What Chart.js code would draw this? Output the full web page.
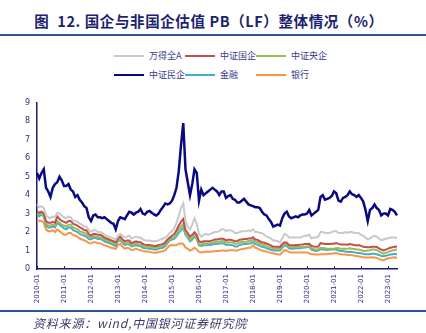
<!DOCTYPE html>
<html lang="zh-CN">
<head>
<meta charset="UTF-8">
<title>国企与非国企估值 PB（LF）整体情况</title>
<script src="https://cdn.jsdelivr.net/npm/chart.js"></script>
<style>
  body { margin: 0; width: 426px; height: 333px; background: #fff; position: relative; overflow: hidden;
         font-family: "Noto Sans CJK SC", "DejaVu Sans", sans-serif; }
  #title { position: absolute; top: 12px; left: 0; width: 418px; text-align: center; font-size: 14.5px;
           letter-spacing: 0.6px; font-weight: bold; color: #1c2270; white-space: nowrap; line-height: 18px; }
  .rule { position: absolute; left: 0; width: 426px; height: 2px; background: #2f5597; }
  .item { position: absolute; font-size: 9px; line-height: 10px; color: #3a3a8a; white-space: nowrap; }
  .item i { display: inline-block; width: 30px; height: 2px; vertical-align: middle; margin-right: 5px; margin-top: -1px; }
  #wrap { position: absolute; left: 0; top: 91px; width: 426px; height: 224px; }
  #foot { position: absolute; left: 33px; top: 315px; font-size: 12px; letter-spacing: 0.8px; line-height: 16px;
          font-style: italic; color: #3b3b66; }
</style>
</head>
<body>
<div id="title">图&nbsp; 12. 国企与非国企估值 PB（LF）整体情况（%）</div>
<div class="rule" style="top:34px"></div>
<div id="legend"></div>
<div id="wrap"><canvas id="pbChart" width="426" height="224"></canvas></div>
<div class="rule" style="top:310px;height:1.5px"></div>
<div id="foot">资料来源：wind,中国银河证券研究院</div>

<script>
// monthly, 2010-01 .. 2023-05
const seriesNames = ['万得全A', '中证国企', '中证央企', '中证民企', '金融', '银行'];

const windA = [
  3.5, 3.35, 3.4, 3.3, 2.9, 2.8, 2.75, 2.85, 2.8, 3.05, 3.0, 2.9,
  2.8, 2.75, 2.85, 2.8, 2.6, 2.6, 2.55, 2.45, 2.4, 2.3, 2.3, 2.1,
  2.0, 2.1, 2.1, 2.0, 2.0, 1.95, 1.85, 1.8, 1.75, 1.7, 1.65, 1.6,
  1.8, 1.9, 1.8, 1.7, 1.75, 1.8, 1.65, 1.7, 1.75, 1.7, 1.7, 1.6,
  1.55, 1.55, 1.55, 1.5, 1.5, 1.5, 1.55, 1.6, 1.65, 1.7, 1.8, 1.95,
  2.05, 2.2, 2.5, 2.9, 3.3, 3.55, 2.6, 2.3, 2.15, 2.4, 2.75, 2.45,
  1.9, 1.75, 1.85, 1.9, 1.85, 1.9, 1.95, 2.0, 2.0, 2.05, 2.15, 2.15,
  2.05, 2.1, 2.1, 2.05, 1.95, 1.95, 2.0, 2.05, 2.05, 2.05, 2.1, 2.05,
  2.15, 2.0, 2.0, 1.95, 1.95, 1.85, 1.75, 1.7, 1.65, 1.55, 1.55, 1.5,
  1.45, 1.65, 1.9, 1.85, 1.7, 1.7, 1.7, 1.7, 1.7, 1.7, 1.75, 1.8,
  1.8, 1.85, 1.65, 1.7, 1.7, 1.75, 2.0, 2.0, 1.95, 1.95, 1.95, 2.0,
  2.05, 2.05, 1.95, 1.95, 1.95, 2.0, 1.95, 2.0, 2.0, 1.95, 1.95, 1.95,
  1.85, 1.8, 1.7, 1.6, 1.65, 1.75, 1.8, 1.75, 1.65, 1.55, 1.6, 1.65,
  1.65, 1.7, 1.7, 1.7, 1.67
];

const csiSOE = [
  3.1, 3.05, 3.1, 3.0, 2.6, 2.5, 2.5, 2.55, 2.5, 2.85, 2.7, 2.6,
  2.55, 2.5, 2.6, 2.6, 2.45, 2.4, 2.35, 2.25, 2.2, 2.1, 2.1, 1.9,
  1.8, 1.9, 1.9, 1.85, 1.85, 1.8, 1.7, 1.65, 1.6, 1.55, 1.5, 1.45,
  1.65, 1.75, 1.6, 1.5, 1.55, 1.55, 1.4, 1.45, 1.5, 1.45, 1.45, 1.35,
  1.32, 1.3, 1.3, 1.28, 1.25, 1.25, 1.3, 1.32, 1.35, 1.45, 1.6, 1.7,
  1.8, 1.9, 2.1, 2.35, 2.55, 2.7, 2.1, 1.95, 1.75, 1.85, 1.99, 1.85,
  1.5, 1.45, 1.5, 1.5, 1.5, 1.52, 1.55, 1.6, 1.6, 1.62, 1.65, 1.63,
  1.55, 1.58, 1.58, 1.55, 1.5, 1.52, 1.58, 1.6, 1.62, 1.62, 1.65, 1.65,
  1.72, 1.6, 1.58, 1.5, 1.45, 1.42, 1.38, 1.33, 1.28, 1.2, 1.2, 1.2,
  1.19, 1.35, 1.45, 1.42, 1.3, 1.28, 1.28, 1.3, 1.3, 1.32, 1.33, 1.35,
  1.35, 1.37, 1.25, 1.22, 1.2, 1.22, 1.4, 1.38, 1.35, 1.35, 1.35, 1.37,
  1.37, 1.4, 1.36, 1.33, 1.33, 1.33, 1.32, 1.35, 1.33, 1.3, 1.28, 1.3,
  1.25, 1.2, 1.19, 1.18, 1.18, 1.2, 1.2, 1.19, 1.12, 1.05, 1.0, 1.05,
  1.1, 1.15, 1.18, 1.2, 1.22
];

const csiCentral = [
  3.0, 2.95, 3.0, 2.9, 2.45, 2.35, 2.35, 2.4, 2.35, 2.6, 2.5, 2.4,
  2.35, 2.3, 2.4, 2.4, 2.25, 2.2, 2.15, 2.05, 2.0, 1.95, 1.9, 1.75,
  1.7, 1.78, 1.78, 1.72, 1.72, 1.68, 1.6, 1.55, 1.5, 1.45, 1.4, 1.35,
  1.55, 1.6, 1.48, 1.38, 1.42, 1.42, 1.3, 1.33, 1.38, 1.33, 1.32, 1.25,
  1.2, 1.2, 1.2, 1.18, 1.15, 1.15, 1.2, 1.22, 1.25, 1.35, 1.5, 1.6,
  1.68, 1.72, 1.9, 2.15, 2.3, 2.43, 1.95, 1.8, 1.6, 1.7, 1.85, 1.7,
  1.35, 1.32, 1.38, 1.38, 1.38, 1.4, 1.42, 1.46, 1.47, 1.48, 1.52, 1.5,
  1.42, 1.45, 1.45, 1.42, 1.37, 1.38, 1.44, 1.46, 1.48, 1.48, 1.52, 1.52,
  1.58, 1.48, 1.45, 1.38, 1.33, 1.3, 1.25, 1.2, 1.16, 1.1, 1.1, 1.1,
  1.1, 1.25, 1.35, 1.32, 1.2, 1.18, 1.18, 1.2, 1.2, 1.2, 1.2, 1.2,
  1.22, 1.24, 1.12, 1.08, 1.05, 1.07, 1.15, 1.14, 1.12, 1.1, 1.1, 1.1,
  1.1, 1.13, 1.12, 1.1, 1.1, 1.1, 1.1, 1.12, 1.1, 1.08, 1.06, 1.05,
  1.02, 0.98, 0.98, 1.0, 1.02, 1.05, 1.05, 1.02, 0.95, 0.88, 0.83, 0.88,
  0.92, 0.97, 1.0, 1.03, 1.05
];

const csiPrivate = [
  5.2, 4.9, 5.2, 5.4, 4.4, 4.2, 3.9, 4.4, 4.6, 4.7, 5.0, 4.8,
  4.5, 4.5, 4.6, 4.3, 4.2, 3.9, 4.0, 3.75, 3.6, 3.4, 3.3, 2.8,
  2.6, 2.9, 2.95, 2.8, 2.8, 2.75, 2.8, 2.7, 2.6, 2.5, 2.45, 2.15,
  2.6, 2.8, 2.75, 2.7, 2.9, 3.1, 3.05, 2.95, 3.05, 3.1, 3.25, 3.0,
  2.95, 3.1, 3.15, 3.05, 2.95, 2.9, 3.0, 3.2, 3.35, 3.55, 3.5, 3.55,
  3.7, 4.0, 4.4, 5.3, 6.7, 7.9, 5.4, 4.7, 4.0, 4.6, 5.4, 5.2,
  3.7, 4.3, 4.0, 4.1, 4.2, 4.3, 4.4, 4.3, 4.2, 4.0, 4.2, 4.2,
  3.85, 3.95, 4.0, 3.8, 3.75, 3.6, 3.6, 3.7, 3.8, 3.65, 3.5, 3.45,
  3.4, 3.35, 3.35, 3.3, 3.1, 2.95, 2.9, 2.7, 2.55, 2.3, 2.35, 2.4,
  2.35, 2.75, 3.0, 3.1, 2.85, 2.75, 2.8, 2.85, 2.8, 2.9, 2.95, 2.95,
  3.0, 3.2, 2.9, 3.0, 3.1, 3.2, 3.9, 4.0, 3.75, 3.8, 3.85, 3.95,
  4.2, 4.1, 3.7, 3.65, 3.85, 3.9, 4.0, 4.2, 4.05, 4.0, 3.9, 4.0,
  3.85, 3.65, 3.2, 2.6, 3.2, 3.3, 3.5, 3.3, 3.2, 2.9, 3.0, 3.0,
  2.9, 3.25, 3.2, 3.1, 2.9
];

const finance = [
  2.9, 2.85, 2.95, 2.85, 2.35, 2.25, 2.25, 2.3, 2.25, 2.5, 2.4, 2.3,
  2.2, 2.15, 2.25, 2.25, 2.1, 2.05, 2.0, 1.9, 1.85, 1.8, 1.75, 1.62,
  1.6, 1.68, 1.68, 1.62, 1.62, 1.58, 1.5, 1.45, 1.4, 1.35, 1.3, 1.25,
  1.5, 1.55, 1.4, 1.3, 1.35, 1.33, 1.22, 1.25, 1.3, 1.25, 1.23, 1.15,
  1.12, 1.12, 1.1, 1.08, 1.05, 1.05, 1.1, 1.13, 1.15, 1.25, 1.4, 1.55,
  1.6, 1.63, 1.78, 1.95, 2.1, 2.25, 1.85, 1.7, 1.5, 1.6, 1.78, 1.62,
  1.28, 1.25, 1.28, 1.28, 1.3, 1.3, 1.33, 1.36, 1.37, 1.37, 1.4, 1.38,
  1.3, 1.32, 1.3, 1.28, 1.22, 1.22, 1.3, 1.33, 1.35, 1.35, 1.38, 1.38,
  1.45, 1.35, 1.32, 1.25, 1.2, 1.18, 1.13, 1.08, 1.04, 1.0, 1.0, 1.0,
  1.0, 1.15, 1.28, 1.25, 1.12, 1.1, 1.1, 1.12, 1.12, 1.12, 1.15, 1.17,
  1.18, 1.2, 1.05, 1.0, 0.98, 1.0, 1.08, 1.06, 1.04, 1.03, 1.04, 1.05,
  1.05, 1.05, 1.0, 0.98, 0.97, 0.95, 0.92, 0.93, 0.92, 0.9, 0.88, 0.87,
  0.85, 0.82, 0.8, 0.8, 0.8, 0.82, 0.82, 0.8, 0.76, 0.7, 0.69, 0.72,
  0.75, 0.78, 0.8, 0.82, 0.8
];

const banks = [
  2.65, 2.6, 2.6, 2.5, 2.15, 2.05, 2.05, 2.1, 2.0, 2.15, 2.05, 1.95,
  1.85, 1.85, 1.95, 1.95, 1.85, 1.8, 1.75, 1.65, 1.6, 1.55, 1.5, 1.4,
  1.38, 1.45, 1.45, 1.4, 1.4, 1.35, 1.28, 1.25, 1.2, 1.15, 1.12, 1.08,
  1.3, 1.35, 1.2, 1.1, 1.15, 1.12, 1.02, 1.05, 1.1, 1.05, 1.02, 0.98,
  0.95, 0.95, 0.93, 0.9, 0.88, 0.88, 0.92, 0.95, 0.96, 1.02, 1.15, 1.28,
  1.3, 1.28, 1.3, 1.37, 1.38, 1.37, 1.15, 1.1, 1.0, 1.05, 1.15, 1.06,
  0.93, 0.9, 0.92, 0.93, 0.93, 0.93, 0.95, 0.96, 0.97, 0.97, 1.0, 1.0,
  0.98, 1.0, 1.02, 1.02, 1.0, 1.0, 1.05, 1.08, 1.1, 1.12, 1.15, 1.15,
  1.28, 1.15, 1.12, 1.05, 1.0, 0.97, 0.95, 0.9, 0.88, 0.84, 0.83, 0.8,
  0.78, 0.9, 1.02, 1.0, 0.92, 0.9, 0.9, 0.9, 0.9, 0.9, 0.9, 0.9,
  0.9, 0.85, 0.8, 0.8, 0.78, 0.78, 0.8, 0.8, 0.8, 0.8, 0.82, 0.83,
  0.85, 0.87, 0.83, 0.8, 0.78, 0.78, 0.76, 0.76, 0.75, 0.72, 0.7, 0.68,
  0.66, 0.63, 0.62, 0.62, 0.62, 0.63, 0.62, 0.6, 0.55, 0.5, 0.48, 0.53,
  0.58, 0.6, 0.62, 0.63, 0.6
];

const months = [];
for (let y = 2010; y <= 2023; y++) {
  for (let m = 1; m <= 12; m++) months.push(y + '-' + String(m).padStart(2, '0'));
}
months.length = windA.length;

const colors = ['#c9c9c9', '#c0504d', '#9bbb59', '#0a0a80', '#4bacc6', '#f79646'];
const widths = [2, 2, 2, 2.5, 2, 2];
const values = [windA, csiSOE, csiCentral, csiPrivate, finance, banks];
const axisColor = '#1a1a6e';
const tickColor = '#2d2d8a';

// small upward tick marks on the x axis
const innerTicks = {
  id: 'innerTicks',
  afterDraw(chart) {
    const xs = chart.scales.x, ctx = chart.ctx;
    ctx.save();
    ctx.strokeStyle = axisColor;
    ctx.lineWidth = 1;
    xs.ticks.forEach((t, i) => {
      const x = Math.round(xs.getPixelForTick(i)) + 0.5;
      ctx.beginPath();
      ctx.moveTo(x, xs.top);
      ctx.lineTo(x, xs.top - 3);
      ctx.stroke();
    });
    ctx.restore();
  }
};

const chart = new Chart(document.getElementById('pbChart'), {
  type: 'line',
  data: {
    labels: months,
    datasets: seriesNames.map((name, i) => ({
      label: name,
      data: values[i],
      borderColor: colors[i],
      backgroundColor: colors[i],
      borderWidth: widths[i],
      pointRadius: 0,
      tension: 0
    }))
  },
  options: {
    responsive: false,
    animation: false,
    devicePixelRatio: 1,
    layout: { padding: { top: 1, right: 29, left: 0, bottom: 0 } },
    plugins: { legend: { display: false }, tooltip: { enabled: false } },
    scales: {
      x: {
        type: 'category',
        offset: false,
        grid: { display: false, drawTicks: false },
        border: { color: axisColor, width: 1.5 },
        afterBuildTicks: s => { s.ticks = s.ticks.filter(t => months[t.value].endsWith('-01')); },
        afterFit: s => { s.height = 46; },
        ticks: {
          autoSkip: false, minRotation: 90, maxRotation: 90, padding: 5,
          color: tickColor, font: { size: 7, family: 'DejaVu Sans' }
        }
      },
      y: {
        min: 0, max: 9,
        grid: { display: false, drawTicks: false },
        border: { color: axisColor, width: 1.5 },
        afterFit: s => { s.width = 37; },
        ticks: { stepSize: 1, padding: 7, color: tickColor, font: { size: 8, family: 'DejaVu Sans' } }
      }
    }
  },
  plugins: [innerTicks]
});

// legend in a 3 x 2 grid, like the original
const legend = document.getElementById('legend');
const colX = [114, 185, 256], rowY = [51, 70];
chart.data.datasets.forEach((ds, i) => {
  const el = document.createElement('div');
  el.className = 'item';
  el.style.left = colX[i % 3] + 'px';
  el.style.top = rowY[Math.floor(i / 3)] + 'px';
  el.innerHTML = '<i style="background:' + ds.borderColor + '"></i>' + ds.label;
  legend.appendChild(el);
});
</script>
</body>
</html>
